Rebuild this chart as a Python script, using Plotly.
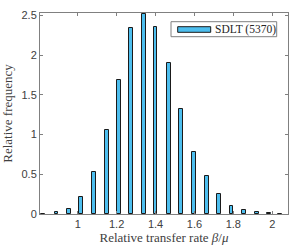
import plotly.graph_objects as go

bin_centers = [0.823, 0.891, 0.955, 1.017, 1.084, 1.150, 1.213, 1.275, 1.339, 1.399,
               1.468, 1.532, 1.597, 1.663, 1.727, 1.791, 1.856, 1.920, 1.982, 2.040]
rel_freq = [0.005, 0.02, 0.063, 0.218, 0.526, 1.06, 1.686, 2.34, 2.52, 2.35,
            1.90, 1.32, 0.78, 0.48, 0.256, 0.097, 0.05, 0.025, 0.013, 0.004]
x_ticks = [1, 1.2, 1.4, 1.6, 1.8, 2]
y_ticks = [0, 0.5, 1, 1.5, 2, 2.5]
series_name = "SDLT (5370)"

bar_color = "#4DBEEE"
axis_color = "#808080"
tick_font = dict(family="Liberation Sans, Arial, sans-serif", size=11, color="#404040")
label_font = dict(family="Liberation Serif, Times New Roman, serif", size=13, color="#404040")

fig = go.Figure()
fig.add_trace(go.Bar(
    x=bin_centers, y=rel_freq, width=0.019,
    marker=dict(color=bar_color, line=dict(color="#1a1a1a", width=1)),
    name=series_name, showlegend=False,
))

W, H = 299, 249
ml, mr, mt, mb = 40, 11, 13, 35

fig.update_layout(
    width=W, height=H,
    margin=dict(l=ml, r=mr, t=mt, b=mb, pad=0, autoexpand=False),
    plot_bgcolor="white", paper_bgcolor="white",
    bargap=0,
    xaxis=dict(range=[0.806, 2.081], tickvals=x_ticks, ticktext=[f"{v:g}" for v in x_ticks],
               ticks="inside", ticklen=3, tickcolor=axis_color, showline=True,
               linecolor=axis_color, linewidth=1, mirror="ticks", showgrid=False,
               zeroline=False, tickfont=tick_font, automargin=False,
               title=dict(text="Relative transfer rate <i>β</i>/<i>μ</i>", font=label_font, standoff=3)),
    yaxis=dict(range=[0, 2.53], tickvals=y_ticks, ticktext=[f"{v:g}" for v in y_ticks],
               ticks="inside", ticklen=3, tickcolor=axis_color, showline=True,
               linecolor=axis_color, linewidth=1, mirror="ticks", showgrid=False,
               zeroline=False, tickfont=tick_font, automargin=False,
               title=dict(text="Relative frequency", font=label_font, standoff=5)),
)

# legend drawn as shapes (paper coordinates of the plot area)
pw, ph = W - ml - mr, H - mt - mb
def px(x): return (x - ml) / pw
def py(y): return (H - mb - y) / ph

fig.add_shape(type="rect", xref="paper", yref="paper",
              x0=px(171), x1=px(276.7), y0=py(36.7), y1=py(21.7),
              line=dict(color="#808080", width=1), fillcolor="white")
fig.add_shape(type="rect", xref="paper", yref="paper",
              x0=px(177.7), x1=px(210.7), y0=py(32.3), y1=py(26.7),
              line=dict(color="#1a1a1a", width=1), fillcolor=bar_color)
fig.add_annotation(xref="paper", yref="paper", x=px(213), y=py(29.5),
                   xanchor="left", yanchor="middle", showarrow=False,
                   text=series_name,
                   font=dict(family="Liberation Serif, Times New Roman, serif", size=11.5, color="#262626"))

fig.write_html("out.html", config={"displayModeBar": False},
               post_script="document.body.style.margin='0';document.body.style.overflow='hidden';")
